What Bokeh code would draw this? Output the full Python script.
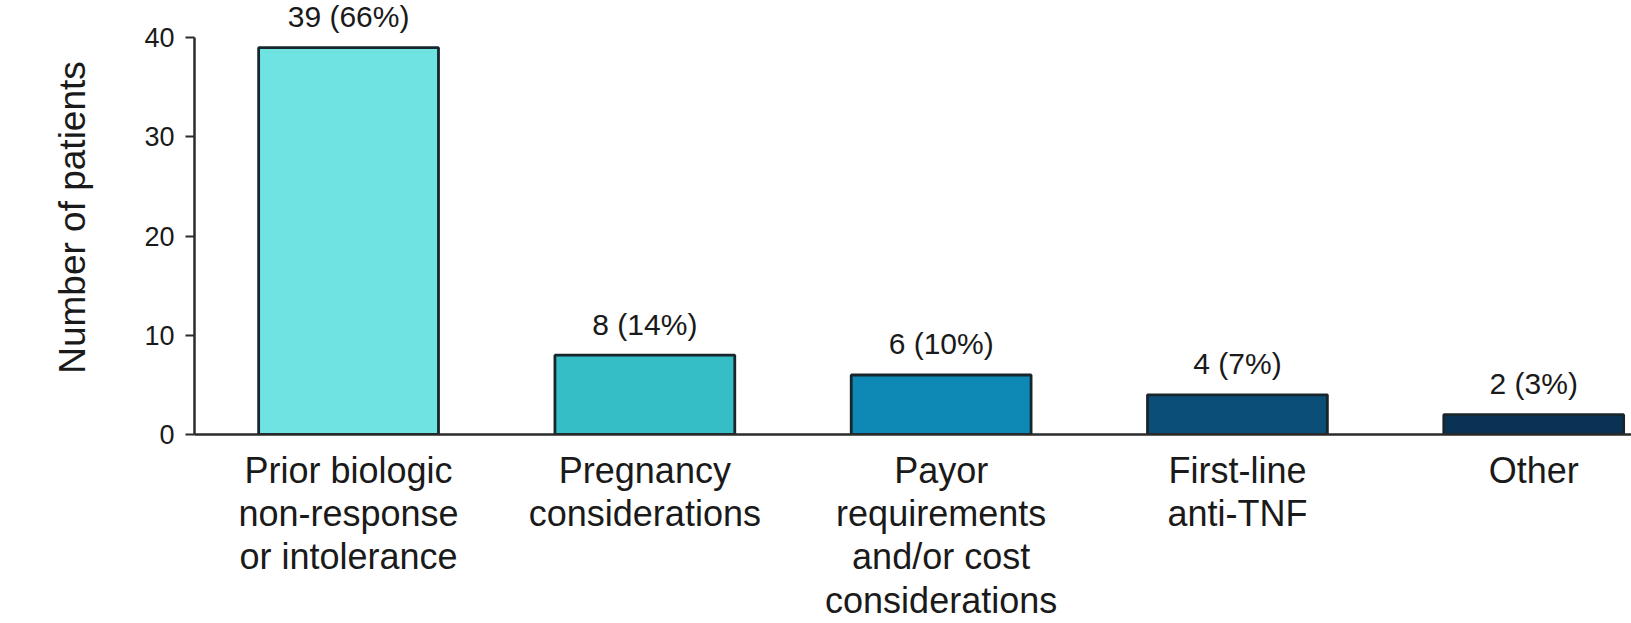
from bokeh.plotting import figure
from bokeh.models import Range1d, FixedTicker, ColumnDataSource
from bokeh.core.properties import value
from bokeh.embed import file_html
from bokeh.resources import INLINE

categories = [
    "Prior biologic\nnon-response\nor intolerance",
    "Pregnancy\nconsiderations",
    "Payor\nrequirements\nand/or cost\nconsiderations",
    "First-line\nanti-TNF",
    "Other",
]
counts = [39, 8, 6, 4, 2]
percents = [66, 14, 10, 7, 3]
colors = ["#6ee3e2", "#35bec6", "#0e88b5", "#0b4f78", "#0a3255"]
y_ticks = [0, 10, 20, 30, 40]

xs = list(range(len(categories)))
labels = [f"{c} ({p}%)" for c, p in zip(counts, percents)]
src = ColumnDataSource(dict(x=xs, top=counts, color=colors, label=labels))

FONT = "Liberation Sans"
TXT = "#1a1a1a"

p = figure(width=1631, height=623, output_backend="svg", toolbar_location=None,
           x_range=Range1d(-0.52, 4.33), y_range=Range1d(0, 43.76),
           min_border_left=194, min_border_right=0, min_border_top=0,
           min_border_bottom=188)
p.outline_line_color = None
p.xgrid.visible = False
p.ygrid.visible = False
p.background_fill_color = "white"
p.border_fill_color = "white"

p.vbar(x="x", top="top", width=0.607, bottom=0, source=src, fill_color="color",
       line_color="#17262d", line_width=2.8)

p.text(x="x", y="top", text="label", source=src, text_align="center",
       text_baseline="middle", y_offset=-31, text_font=value(FONT),
       text_font_size="30px", text_color=TXT)

# x axis
xa = p.xaxis[0]
xa.ticker = FixedTicker(ticks=xs)
xa.major_label_overrides = {i: c for i, c in zip(xs, categories)}
xa.major_tick_line_color = None
xa.major_tick_out = 0
xa.major_tick_in = 0
xa.minor_tick_line_color = None
xa.axis_line_color = "#2b2b2b"
xa.axis_line_width = 2.5
xa.major_label_text_font = FONT
xa.major_label_text_font_size = "36px"
xa.major_label_text_line_height = 1.06
xa.major_label_text_color = TXT
xa.major_label_standoff = 15

# y axis
ya = p.yaxis[0]
ya.ticker = FixedTicker(ticks=y_ticks)
ya.bounds = (0, 40)
ya.axis_line_color = "#2b2b2b"
ya.axis_line_width = 2.5
ya.major_tick_line_color = "#2b2b2b"
ya.major_tick_line_width = 2
ya.major_tick_out = 9
ya.major_tick_in = 0
ya.minor_tick_line_color = None
ya.major_label_text_font = FONT
ya.major_label_text_font_size = "27px"
ya.major_label_text_color = TXT
ya.major_label_standoff = 11
ya.axis_label = "Number of patients"
ya.axis_label_text_font = FONT
ya.axis_label_text_font_size = "37px"
ya.axis_label_text_font_style = "normal"
ya.axis_label_text_color = TXT
ya.axis_label_standoff = 48

open("out.html", "w").write(file_html(p, INLINE))
